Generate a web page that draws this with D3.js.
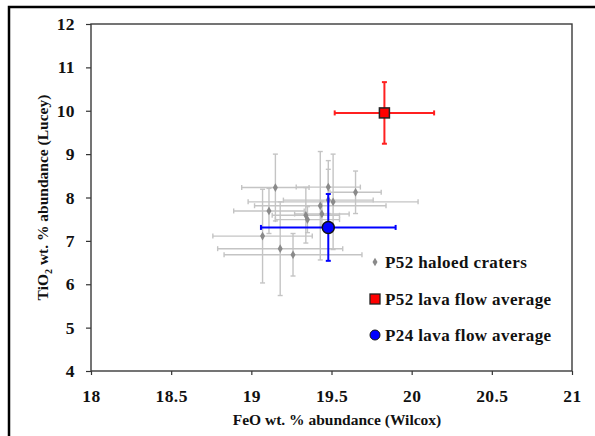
<!DOCTYPE html>
<html>
<head>
<meta charset="utf-8">
<script src="https://cdn.jsdelivr.net/npm/d3@7"></script>
<style>
  html, body { margin: 0; padding: 0; background: #fff; }
  svg { display: block; }
</style>
</head>
<body>
<div id="chart"></div>
<script>
// Cratères à halo P52 : FeO, TiO2 et leurs barres d'erreur
const craterFeO   = [19.15, 19.48, 19.48, 19.65, 19.51, 19.43, 19.11, 19.34, 19.44, 19.35, 19.07, 19.18, 19.26];
const craterTiO2  = [8.23, 8.24, 7.94, 8.12, 7.90, 7.81, 7.69, 7.59, 7.62, 7.49, 7.11, 6.82, 6.68];
const craterFeOErr  = [0.21, 0.20, 0.28, 0.16, 0.53, 0.41, 0.22, 0.21, 0.17, 0.20, 0.31, 0.39, 0.43];
const craterTiO2Err = [0.77, 0.61, 0.71, 0.49, 1.10, 1.25, 0.52, 0.64, 0.30, 0.30, 1.08, 1.08, 0.49];

// Moyennes des coulées de lave
const p52Avg = { feo: 19.83, tio2: 9.95, feoErr: 0.31, tio2Err: 0.71 };
const p24Avg = { feo: 19.48, tio2: 7.31, feoErr: 0.42, tio2Err: 0.77 };

const xTicks = [18, 18.5, 19, 19.5, 20, 20.5, 21];
const yTicks = [4, 5, 6, 7, 8, 9, 10, 11, 12];
const legendLabels = ['P52 haloed craters', 'P52 lava flow average', 'P24 lava flow average'];

const CFG = {
  W: 595, H: 436,
  plot: { left: 91, top: 24, right: 572, bottom: 371 },
  font: '"Liberation Serif", "DejaVu Serif", serif',
  grayBar: '#c4c4c4', grayDot: '#8a8a8a',
  red: '#ff2020', blue: '#0000ff',
};

const { W, H, plot: p, font } = CFG;

const svg = d3.select('#chart').append('svg')
  .attr('width', W).attr('height', H)
  .attr('role', 'img')
  .attr('aria-label', 'TiO2 vs FeO abundance');

// Cadre extérieur (coupé à droite et en bas)
svg.append('rect')
  .attr('x', 9).attr('y', 7).attr('width', 700).attr('height', 600)
  .attr('fill', 'none').attr('stroke', '#000').attr('stroke-width', 2.5);

const x = d3.scaleLinear().domain([18, 21]).range([p.left, p.right]);
const y = d3.scaleLinear().domain([4, 12]).range([p.bottom, p.top]);

// Axes
const styleAxis = gg => {
  gg.select('.domain').remove();
  gg.selectAll('line').attr('stroke', '#333').attr('stroke-width', 1.2);
  gg.selectAll('text')
    .attr('fill', '#111')
    .style('font-family', font)
    .style('font-weight', 'bold')
    .style('font-size', '17.5px')
    .style('letter-spacing', '0.4px');
};

svg.append('g')
  .attr('transform', `translate(0,${p.bottom})`)
  .call(d3.axisBottom(x).tickValues(xTicks).tickSize(4).tickPadding(15).tickFormat(d => d))
  .call(styleAxis);

svg.append('g')
  .attr('transform', `translate(${p.left},0)`)
  .call(d3.axisLeft(y).tickValues(yTicks).tickSize(5).tickPadding(11).tickFormat(d => d))
  .call(styleAxis);

// Cadre de la zone de tracé
svg.append('rect')
  .attr('x', p.left).attr('y', p.top)
  .attr('width', p.right - p.left).attr('height', p.bottom - p.top)
  .attr('fill', 'none').attr('stroke', '#3a3a3a').attr('stroke-width', 1.4);

// Titres des axes
svg.append('text')
  .attr('x', 337).attr('y', 425)
  .attr('text-anchor', 'middle')
  .style('font-family', font).style('font-weight', 'bold').style('font-size', '15.5px')
  .attr('fill', '#111')
  .text('FeO wt. % abundance (Wilcox)');

const yTitle = svg.append('text')
  .attr('transform', `translate(48,${(p.top + p.bottom) / 2}) rotate(-90)`)
  .attr('text-anchor', 'middle')
  .style('font-family', font).style('font-weight', 'bold').style('font-size', '15.5px')
  .attr('fill', '#111');
yTitle.append('tspan').text('TiO');
yTitle.append('tspan').attr('dy', 4).style('font-size', '10px').text('2');
yTitle.append('tspan').attr('dy', -4).text(' wt. % abundance (Lucey)');

// Barres d'erreur génériques
function errorBars(g, cx, cy, ex, ey, color, width, cap) {
  g.append('line')
    .attr('x1', x(cx - ex)).attr('x2', x(cx + ex)).attr('y1', y(cy)).attr('y2', y(cy))
    .attr('stroke', color).attr('stroke-width', width);
  g.append('line')
    .attr('x1', x(cx)).attr('x2', x(cx)).attr('y1', y(cy - ey)).attr('y2', y(cy + ey))
    .attr('stroke', color).attr('stroke-width', width);
  [[x(cx - ex), y(cy), 'v'], [x(cx + ex), y(cy), 'v'], [x(cx), y(cy - ey), 'h'], [x(cx), y(cy + ey), 'h']]
    .forEach(([px, py, o]) => {
      g.append('line')
        .attr('x1', o === 'v' ? px : px - cap).attr('x2', o === 'v' ? px : px + cap)
        .attr('y1', o === 'v' ? py - cap : py).attr('y2', o === 'v' ? py + cap : py)
        .attr('stroke', color).attr('stroke-width', width);
    });
}

const gCraters = svg.append('g');
craterFeO.forEach((fe, i) => {
  errorBars(gCraters, fe, craterTiO2[i], craterFeOErr[i], craterTiO2Err[i], CFG.grayBar, 1.4, 2.5);
});

const diamond = d3.symbol().type(d3.symbolDiamond).size(22);
gCraters.selectAll('path.pt')
  .data(craterFeO)
  .join('path')
  .attr('class', 'pt')
  .attr('d', diamond)
  .attr('transform', (d, i) => `translate(${x(d)},${y(craterTiO2[i])})`)
  .attr('fill', CFG.grayDot);

// Moyenne P52
const gRed = svg.append('g');
errorBars(gRed, p52Avg.feo, p52Avg.tio2, p52Avg.feoErr, p52Avg.tio2Err, CFG.red, 2, 2.5);
gRed.append('rect')
  .attr('x', x(p52Avg.feo) - 5).attr('y', y(p52Avg.tio2) - 5)
  .attr('width', 10).attr('height', 10)
  .attr('fill', '#ff0000').attr('stroke', '#222').attr('stroke-width', 1.5);

// Moyenne P24
const gBlue = svg.append('g');
errorBars(gBlue, p24Avg.feo, p24Avg.tio2, p24Avg.feoErr, p24Avg.tio2Err, CFG.blue, 2, 2.5);
gBlue.append('circle')
  .attr('cx', x(p24Avg.feo)).attr('cy', y(p24Avg.tio2)).attr('r', 6)
  .attr('fill', '#0000ff').attr('stroke', '#111').attr('stroke-width', 1.5);

// Légende
const legendY = [262, 299, 335];
const lg = svg.append('g');
legendLabels.forEach((label, i) => {
  const ly = legendY[i];
  if (i === 0) {
    lg.append('path').attr('d', diamond).attr('transform', `translate(375,${ly})`).attr('fill', CFG.grayDot);
  } else if (i === 1) {
    lg.append('rect').attr('x', 370).attr('y', ly - 5).attr('width', 10).attr('height', 10)
      .attr('fill', '#ff0000').attr('stroke', '#222').attr('stroke-width', 1.3);
  } else {
    lg.append('circle').attr('cx', 375).attr('cy', ly).attr('r', 5)
      .attr('fill', '#0000ff').attr('stroke', '#111').attr('stroke-width', 1);
  }
  lg.append('text')
    .attr('x', 385).attr('y', ly + 6)
    .style('font-family', font).style('font-weight', 'bold').style('font-size', '17px')
    .style('letter-spacing', '0.4px')
    .attr('fill', '#111')
    .text(label);
});
</script>
</body>
</html>
